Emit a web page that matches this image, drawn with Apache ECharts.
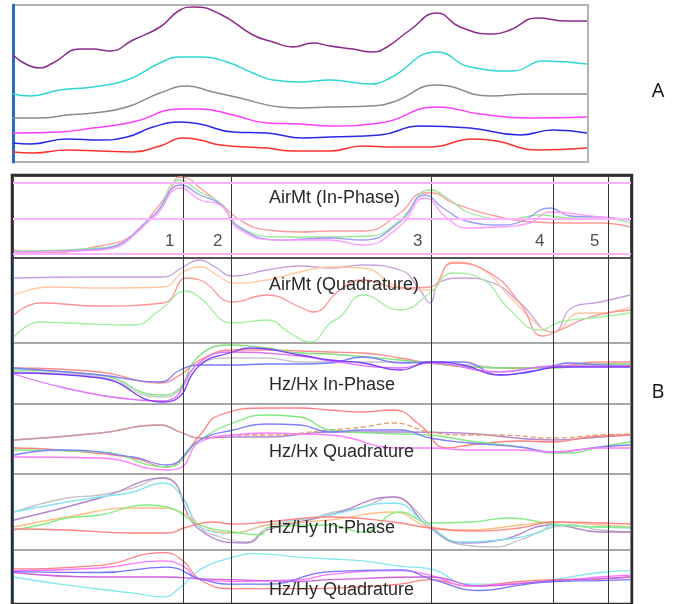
<!DOCTYPE html>
<html>
<head>
<meta charset="utf-8">
<script src="https://cdn.jsdelivr.net/npm/echarts@6/dist/echarts.min.js"></script>
<style>
  html, body { margin: 0; padding: 0; background: #fff; }
  #chart { width: 679px; height: 604px; }
</style>
</head>
<body>
<div id="chart"></div>
<script>
// station positions along the profile (B panels) and their labels
const stations = [170, 218, 418, 540, 595]
const stationLabels = ['1', '2', '3', '4', '5']
const airMtRefLevels = [75, 39, 4]
const panelTitles = ['AirMt (In-Phase)', 'AirMt (Quadrature)', 'Hz/Hx In-Phase', 'Hz/Hx Quadrature', 'Hz/Hy In-Phase', 'Hz/Hy Quadrature']

// panel A traces
const aPurple = [[0,107],[27,94],[40,99],[67,113],[80,113],[97,111],[120,122],[147,135],[167,152],[180,155],[207,148],[240,127],[260,120],[280,115],[300,119],[317,116],[340,113],[360,110],[374,115],[397,132],[424,149],[447,135],[480,128],[497,132],[524,144],[554,141],[574,141]]
const aCyan = [[0,68],[17,66],[47,72],[80,75],[114,82],[147,99],[167,105],[187,105],[214,100],[240,89],[260,82],[287,80],[317,82],[357,78],[377,84],[424,110],[457,95],[500,91],[530,101],[574,98]]
const aGray = [[0,44],[27,44],[54,47],[80,49],[114,55],[147,69],[174,76],[200,70],[227,64],[267,55],[287,54],[317,55],[357,56],[380,60],[424,77],[477,66],[517,68],[574,68]]
const aMagenta = [[0,29],[47,30],[80,34],[120,40],[167,53],[187,53],[220,47],[254,39],[287,38],[317,36],[367,39],[424,55],[467,48],[517,44],[574,45]]
const aBlue = [[0,19],[17,18],[54,23],[87,22],[114,25],[140,35],[167,40],[187,38],[220,30],[254,29],[290,24],[317,25],[367,27],[407,36],[457,34],[507,27],[540,32],[574,29]]
const aRed = [[0,10],[20,9],[54,12],[87,11],[120,10],[147,16],[170,24],[187,22],[207,17],[254,14],[280,11],[317,11],[350,16],[380,15],[417,15],[460,23],[484,21],[524,12],[574,14]]

// B1 AirMt in-phase
const b1Red = [[1,8],[27,5],[87,12],[120,23],[140,45],[157,68],[167,81],[174,80],[187,70],[207,55],[227,38],[254,28],[287,26],[317,27],[350,27],[387,45],[410,65],[420,65],[440,55],[487,41],[520,36],[554,35],[587,35],[617,31]]
const b1Green = [[1,7],[87,10],[140,42],[167,78],[187,66],[207,55],[227,31],[267,21],[317,21],[357,22],[387,38],[417,68],[437,58],[457,45],[497,39],[527,43],[557,40],[587,40],[617,35]]
const b1Blue = [[1,6],[87,9],[140,42],[168,73],[187,63],[207,54],[227,30],[267,18],[317,20],[350,18],[387,36],[412,63],[430,50],[457,36],[487,33],[507,36],[537,50],[557,42],[587,41],[617,38]]
const b1Magenta = [[1,6],[87,8],[140,40],[168,70],[187,58],[207,53],[227,28],[267,18],[317,18],[350,13],[387,32],[412,60],[434,40],[454,30],[487,31],[517,35],[537,46],[587,41],[617,38]]

// B2 AirMt quadrature
const b2Purple = [[1,65],[87,66],[150,66],[170,76],[187,83],[202,76],[220,67],[254,73],[287,77],[317,75],[350,78],[387,73],[407,53],[417,40],[427,61],[450,65],[480,60],[507,40],[540,11],[560,36],[587,41],[617,48]]
const b2Orange = [[1,48],[37,56],[87,55],[150,56],[170,71],[187,76],[207,66],[220,60],[254,63],[287,71],[317,76],[350,75],[387,56],[417,53],[440,81],[467,75],[497,46],[527,16],[540,11],[567,30],[587,30],[617,36]]
const b2Red = [[1,28],[27,40],[87,37],[150,40],[174,65],[187,63],[220,41],[254,48],[287,36],[300,31],[327,53],[350,63],[387,55],[417,56],[440,80],[477,70],[507,40],[530,7],[547,13],[577,26],[617,33]]
const b2Green = [[1,6],[27,21],[54,20],[120,18],[147,33],[174,52],[187,45],[220,20],[254,23],[277,10],[297,1],[317,20],[327,26],[350,48],[387,33],[417,50],[440,70],[467,65],[497,33],[527,13],[547,21],[587,26],[617,30]]

// B3 Hz/Hx in-phase
const b3Red = [[1,36],[87,32],[147,21],[167,29],[187,44],[220,54],[254,54],[287,53],[317,52],[350,51],[387,46],[417,41],[457,37],[507,36],[540,37],[587,42],[617,42]]
const b3Green = [[1,34],[87,29],[147,9],[162,12],[187,49],[220,59],[254,56],[287,51],[317,50],[387,44],[417,41],[457,37],[507,36],[540,36],[587,40],[617,40]]
const b3Gray = [[1,32],[87,27],[147,7],[167,14],[187,41],[220,46],[254,46],[287,42],[317,42],[387,42],[417,41],[457,39],[507,35],[540,38],[587,40],[617,39]]
const b3Blue = [[1,36],[87,29],[147,22],[167,34],[187,39],[220,39],[254,40],[287,40],[317,41],[350,47],[387,41],[417,42],[450,42],[487,29],[517,32],[540,38],[557,41],[587,39],[617,38]]
const b3Violet = [[1,31],[87,26],[150,2],[162,4],[187,39],[220,52],[237,56],[287,49],[317,44],[350,41],[387,34],[417,42],[450,39],[487,29],[520,33],[547,37],[587,37],[617,37]]
const b3Magenta = [[1,30],[150,3],[187,42],[220,52],[287,48],[317,43],[387,36],[417,41],[487,32],[540,38],[617,38]]

// B4 Hz/Hx quadrature
const b4Orange = [[1,34],[87,41],[147,49],[167,42],[187,36],[220,39],[254,39],[317,44],[350,47],[380,51],[417,42],[454,39],[487,39],[540,36],[587,39],[617,40]]
const b4Purple = [[1,34],[87,41],[147,49],[167,42],[187,36],[220,37],[254,37],[317,42],[387,42],[447,41],[540,34],[587,37],[617,39]]
const b4Red = [[1,26],[47,24],[120,16],[154,7],[167,14],[187,39],[207,59],[254,66],[287,66],[317,64],[350,62],[380,64],[407,49],[434,26],[457,29],[507,33],[540,32],[577,37],[617,39]]
const b4Green = [[1,24],[87,22],[154,7],[187,34],[220,51],[254,59],[287,57],[317,44],[387,40],[417,39],[457,33],[507,27],[540,21],[557,21],[587,27],[617,32]]
const b4Blue = [[1,19],[47,24],[120,17],[154,9],[187,34],[220,44],[254,50],[287,49],[317,42],[350,44],[387,44],[417,36],[457,31],[507,27],[540,22],[587,27],[617,29]]
const b4Magenta = [[1,17],[87,16],[154,4],[167,6],[187,32],[220,39],[254,41],[287,40],[317,39],[387,26],[417,26],[457,24],[507,24],[540,22],[587,26],[617,26]]

// B5 Hz/Hy in-phase
const b5Gray = [[1,38],[54,52],[87,55],[120,62],[150,72],[162,67],[170,52],[187,23],[207,13],[234,8],[254,22],[287,27],[317,37],[350,43],[380,53],[397,45],[417,25],[450,5],[480,3],[507,10],[540,23],[557,25],[587,20],[617,18]]
const b5Purple = [[1,30],[87,52],[150,72],[187,20],[234,7],[254,20],[317,35],[380,53],[417,22],[450,7],[487,10],[540,25],[587,18],[617,18]]
const b5Cyan = [[1,38],[54,48],[87,53],[120,58],[150,67],[170,52],[187,23],[220,17],[254,25],[317,35],[380,47],[417,23],[450,8],[487,10],[527,18],[540,25],[587,23],[617,22]]
const b5Orange = [[1,23],[54,33],[120,42],[147,42],[170,37],[187,25],[220,17],[254,25],[317,30],[380,38],[417,23],[457,20],[507,25],[540,28],[587,25],[617,23]]
const b5Green = [[1,20],[27,25],[54,32],[87,35],[134,45],[154,43],[187,25],[220,18],[247,15],[257,23],[317,25],[350,18],[387,38],[417,27],[457,28],[497,32],[540,26],[587,23],[617,23]]
const b5Red = [[1,21],[54,20],[120,17],[154,17],[174,23],[200,28],[220,26],[254,28],[317,33],[380,28],[417,22],[457,19],[507,22],[540,28],[587,27],[617,26]]

// B6 Hz/Hy quadrature
const b6Red = [[1,39],[87,43],[150,57],[170,48],[187,27],[220,17],[287,17],[327,18],[387,22],[417,27],[457,20],[507,25],[540,27],[587,28],[617,30]]
const b6Magenta = [[1,37],[87,40],[150,48],[170,42],[187,27],[220,25],[287,27],[317,33],[387,37],[417,32],[457,20],[507,23],[540,25],[587,30],[617,32]]
const b6Blue = [[1,36],[87,35],[154,41],[187,28],[220,22],[254,22],[317,36],[387,38],[420,27],[467,15],[507,21],[540,25],[587,26],[617,27]]
const b6Violet = [[1,35],[87,30],[154,30],[187,28],[220,27],[287,25],[317,27],[417,30],[467,20],[540,26],[587,28],[617,30]]
const b6Cyan = [[1,30],[47,22],[120,12],[150,8],[167,18],[187,38],[220,52],[240,56],[287,52],[317,50],[350,48],[387,42],[417,39],[457,22],[507,23],[540,27],[587,35],[617,37]]

const chart = echarts.init(document.getElementById('chart'))

// grid layout: A, B1..B6, outer frame of B
const bPanels = [
  { top: 176, height: 82 },
  { top: 258, height: 85 },
  { top: 343, height: 61 },
  { top: 404, height: 70 },
  { top: 474, height: 76 },
  { top: 550, height: 60 },
]

const grids = [
  { left: 13, top: 5, width: 575, height: 157, show: true, borderColor: '#b4b4b4', borderWidth: 2 },
  ...bPanels.map((p, i) => ({
    left: 13, top: p.top, width: 618, height: p.height, show: true,
    borderColor: i === 0 ? '#555' : '#a8a8a8', borderWidth: 2, z: i === 0 ? 1 : 0,
  })),
  { left: 12, top: 175, width: 620, height: 440, show: true, borderColor: '#2e2e2e', borderWidth: 2.5, z: 3 },
]

const xAxes = grids.map((g, i) => ({
  type: 'value', gridIndex: i, min: 0, max: i === 0 ? 575 : 618, show: false,
}))

const yAxes = grids.map((g, i) => {
  const isA = i === 0
  const blueBar = i >= 2 && i <= 6
  return {
    type: 'value', gridIndex: i, min: 0,
    max: isA ? 157 : (i <= 6 ? bPanels[i - 1].height : 440),
    show: isA || blueBar,
    offset: blueBar ? 2 : 1,
    axisLine: { show: true, lineStyle: { color: '#2a6cc4', width: isA ? 3 : 2 } },
    axisTick: { show: false },
    axisLabel: { show: false },
    splitLine: { show: false },
  }
})

function traces(gridIndex, list, width) {
  return list.map(([data, color, dashed]) => ({
    type: 'line',
    xAxisIndex: gridIndex,
    yAxisIndex: gridIndex,
    data,
    smooth: 0.5,
    symbol: 'none',
    silent: true,
    lineStyle: { color, width: width || 1.3, type: dashed ? 'dashed' : 'solid' },
  }))
}

function stationLines(series) {
  series[0].markLine = {
    silent: true,
    symbol: 'none',
    label: { show: false },
    lineStyle: { color: '#3a3a3a', width: 1, type: 'solid' },
    data: stations.map(x => ({ xAxis: x })),
  }
  return series
}

const seriesA = traces(0, [
  [aPurple, '#8e2a8e'], [aCyan, '#2fd6d6'], [aGray, '#8c8c8c'],
  [aMagenta, '#ff3cff'], [aBlue, '#2a2ae6'], [aRed, '#ff3030'],
], 1.5)

const seriesB1 = stationLines(traces(1, [
  [b1Red, '#ff9a9a'], [b1Green, '#9aea9a'], [b1Blue, '#9a9aff'], [b1Magenta, '#ff9aff'],
]))
seriesB1.push({
  type: 'line', xAxisIndex: 1, yAxisIndex: 1, data: [], silent: true,
  markLine: {
    silent: true, symbol: 'none', label: { show: false },
    lineStyle: { color: '#ffb4ff', width: 2, type: 'solid' },
    data: airMtRefLevels.map(y => ({ yAxis: y })),
  },
  z: 1,
})
seriesB1.push({
  type: 'scatter', xAxisIndex: 1, yAxisIndex: 1, silent: true,
  symbolSize: 1, itemStyle: { color: 'rgba(0,0,0,0)' },
  data: stations.map((x, i) => [x, 17, stationLabels[i]]),
  label: {
    show: true, position: 'left', distance: 8,
    formatter: p => p.value[2],
    color: '#222', fontSize: 17, fontFamily: 'Liberation Sans',
  },
})

const seriesB2 = stationLines(traces(2, [
  [b2Purple, '#c8a0dc'], [b2Orange, '#ffc8a0'], [b2Red, '#ff9494'], [b2Green, '#a0f0a0'],
]))
const seriesB3 = stationLines(traces(3, [
  [b3Gray, '#c8c8c8'], [b3Red, '#ff8c8c'], [b3Green, '#80e080'], [b3Blue, '#7c7cff'],
  [b3Magenta, '#e070ff'], [b3Violet, '#7a3cff'],
]))
const seriesB4 = stationLines(traces(4, [
  [b4Purple, '#b888d0'], [b4Orange, '#e0a070', true], [b4Red, '#ff8080'], [b4Green, '#80e880'],
  [b4Blue, '#8080ff'], [b4Magenta, '#ff7cff'],
]))
const seriesB5 = stationLines(traces(5, [
  [b5Gray, '#c4c4c4'], [b5Purple, '#b484cc'], [b5Cyan, '#84e4f0'], [b5Orange, '#ffc084'],
  [b5Green, '#84ee84'], [b5Red, '#ff8484'],
]))
const seriesB6 = stationLines(traces(6, [
  [b6Cyan, '#84e8f0'], [b6Red, '#ff8080'], [b6Magenta, '#ff74ff'], [b6Violet, '#d060e0'], [b6Blue, '#7474ff'],
]))

const titleTops = [189, 276, 376, 443, 519, 581]

const option = {
  animation: false,
  backgroundColor: '#fff',
  title: panelTitles.map((t, i) => ({
    text: t, left: 269, top: titleTops[i], padding: 0,
    textStyle: { fontSize: 18, fontWeight: 'normal', color: '#2a2a2a', fontFamily: 'Liberation Sans' },
  })),
  graphic: [
    { type: 'text', x: 658, y: 91, style: { text: 'A', fontSize: 20, fill: '#111', fontFamily: 'Open Sans', align: 'center', verticalAlign: 'middle' } },
    { type: 'text', x: 658, y: 392, style: { text: 'B', fontSize: 20, fill: '#111', fontFamily: 'Open Sans', align: 'center', verticalAlign: 'middle' } },
  ],
  grid: grids,
  xAxis: xAxes,
  yAxis: yAxes,
  series: [...seriesA, ...seriesB1, ...seriesB2, ...seriesB3, ...seriesB4, ...seriesB5, ...seriesB6],
}

chart.setOption(option)
</script>
</body>
</html>
